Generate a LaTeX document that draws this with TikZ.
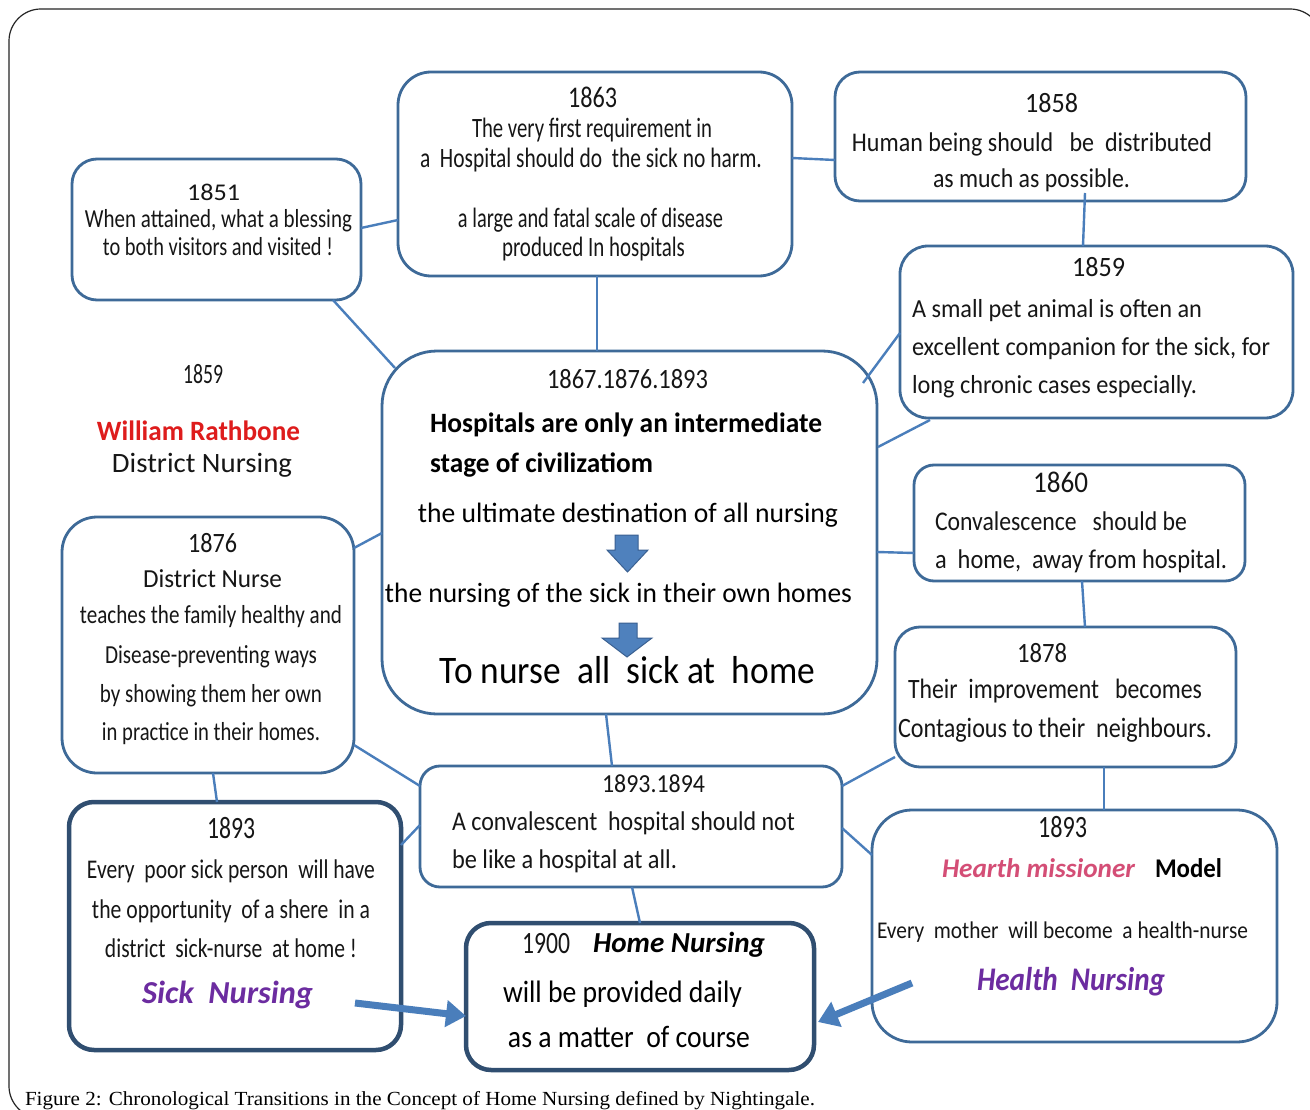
\documentclass[tikz,border=0pt]{standalone}
\usepackage{fontspec}
\setmainfont{Carlito}
\newfontfamily\capfont{Liberation Serif}
\usepackage{graphicx}
\usetikzlibrary{arrows.meta,calc}
\definecolor{boxc}{RGB}{62,106,152}
\definecolor{boxd}{RGB}{48,78,112}
\definecolor{linec}{RGB}{74,126,187}
\definecolor{txtc}{RGB}{22,22,22}
\definecolor{redc}{RGB}{222,28,28}
\definecolor{pinkc}{RGB}{212,78,118}
\definecolor{purc}{RGB}{108,44,160}
\definecolor{arrf}{RGB}{79,129,189}
\definecolor{arrd}{RGB}{58,96,145}
\newcommand\fs[1]{\fontsize{#1}{#1}\selectfont}
\newcommand\fw[2]{\resizebox{#1pt}{\height}{#2}}
\begin{document}
\begin{tikzpicture}[x=1pt,y=-1pt,
  box/.style={draw=boxc, line width=2.8pt, fill=white, rectangle, inner sep=0pt, outer sep=0pt},
  boxthick/.style={box, draw=boxd, line width=4.5pt},
  conn/.style={draw=linec, line width=2.4pt},
  bigarrow/.style={draw=linec, line width=7pt, -{Triangle[length=20pt,width=26pt]}},
  tx/.style={anchor=base, inner sep=0pt, outer sep=0pt, text=txtc},
  txl/.style={tx, anchor=base west},
  blockarrow/.style={fill=arrf, draw=arrd, line width=1pt}]
\useasboundingbox (0,0) rectangle (1310,1110);
\fill[white] (0,0) rectangle (1310,1110);
\begin{scope}
\clip (0,0) rectangle (1310,1110);
\draw[line width=1.2pt, draw=black!85, rounded corners=32pt] (9,9) rectangle (1322,1118);
\end{scope}

% boxes
\node[box, rounded corners=25pt, minimum width=289pt, minimum height=141pt] (b1851) at (216.5,229.5) {};
\node[box, rounded corners=33pt, minimum width=394pt, minimum height=204pt] (b1863) at (595,174) {};
\node[box, rounded corners=25pt, minimum width=411pt, minimum height=129pt] (b1858) at (1040.5,136.5) {};
\node[box, rounded corners=28pt, minimum width=393pt, minimum height=172pt] (b1859) at (1096.5,332) {};
\node[box, rounded corners=55pt, minimum width=495pt, minimum height=363pt] (bc) at (629.5,532.5) {};
\node[box, rounded corners=20pt, minimum width=331pt, minimum height=116pt] (b1860) at (1079.5,523) {};
\node[box, rounded corners=35pt, minimum width=292pt, minimum height=256pt] (b1876) at (208,645) {};
\node[box, rounded corners=25pt, minimum width=341pt, minimum height=140pt] (b1878) at (1065.5,697) {};
\node[box, rounded corners=20pt, minimum width=422pt, minimum height=121pt] (b1894) at (631,826.5) {};
\node[boxthick, rounded corners=25pt, minimum width=332pt, minimum height=248pt] (bL) at (235,926) {};
\node[box, rounded corners=40pt, minimum width=405pt, minimum height=232pt] (bR) at (1074.5,926) {};
\node[boxthick, rounded corners=25pt, minimum width=348pt, minimum height=147pt] (b1900) at (640,996.5) {};

% connectors
\draw[conn] ($(b1851.east)+(0,-1.5)$) -- ($(b1863.west)+(0,46)$);
\draw[conn] ($(b1851.south east)+(-28,0)$) -- ($(bc.north west)+(13,17)$);
\draw[conn] ($(b1863.south)+(2,0)$) -- ($(bc.north)+(-32.5,0)$);
\draw[conn] ($(b1863.east)+(0,-16)$) -- ($(b1858.west)+(0,23.5)$);
\draw[conn] ($(b1858.south)+(44.5,-8)$) -- ($(b1859.north)+(-13.5,0)$);
\draw[conn] ($(b1859.west)+(0,1)$) -- ($(bc.north east)+(-14,32)$);
\draw[conn] ($(b1859.south west)+(30,2)$) -- ($(bc.east)+(1,-85.5)$);
\draw[conn] ($(b1860.west)+(0,30)$) -- ($(bc.east)+(0,19.5)$);
\draw[conn] ($(b1860.south)+(2.5,0)$) -- ($(b1878.north)+(19.5,0)$);
\draw[conn] ($(b1878.south west)+(0,-10)$) -- ($(b1894.north east)+(0,20)$);
\draw[conn] ($(b1878.south)+(38.5,0)$) -- ($(bR.north)+(29.5,0)$);
\draw[conn] ($(b1894.east)+(0,1.5)$) -- ($(bR.west)+(0,-71)$);
\draw[conn] ($(bc.south)+(-23.5,0)$) -- ($(b1894.north)+(-19,0)$);
\draw[conn] ($(b1876.north east)+(0,31)$) -- ($(bc.west)+(0,0.5)$);
\draw[conn] ($(b1876.south east)+(0,-28)$) -- ($(b1894.west)+(0,-40.5)$);
\draw[conn] ($(b1876.south)+(5,0)$) -- ($(bL.north)+(-18,0)$);
\draw[conn] ($(bL.east)+(0,-81)$) -- ($(b1894.west)+(0,-1.5)$);
\draw[conn] ($(b1894.south)+(1,0)$) -- (b1900.north);
\draw[bigarrow] ($(bL.east)+(-46,77)$) -- ($(b1900.west)+(0,19.5)$);
\draw[bigarrow] ($(bR.west)+(40,57)$) -- ($(b1900.east)+(4,25.5)$);

% block arrows in the centre box
\draw[blockarrow] (615,535) -- (638,535) -- (638,550) -- (648,550) -- (627.5,572) -- (607,550) -- (615,550) -- cycle;
\draw[blockarrow] (619,623) -- (637,623) -- (637,638) -- (652,638) -- (627,657) -- (602,638) -- (619,638) -- cycle;

% texts
\node[tx, font=\fs{24}] (t1851) at (213.5,201) {\fw{53}{1851}};
\node[tx, font=\fs{26}] (t1851a) at (218.5,228) {\fw{267}{When attained, what a blessing}};
\node[tx, font=\fs{26}] (t1851b) at (218,256) {\fw{230}{to both visitors and visited !}};

\node[tx, font=\fs{30}] (t1863) at (592.5,108) {\fw{49}{1863}};
\node[tx, font=\fs{28}] (t1863a) at (592,138) {\fw{240}{The very first requirement in}};
\node[tx, font=\fs{28}] (t1863b) at (591,168) {\fw{342}{a\ \ Hospital should do\ \ the sick\ no harm.}};
\node[tx, font=\fs{28}] (t1863c) at (590.5,228) {\fw{265}{a large and fatal scale of disease}};
\node[tx, font=\fs{28}] (t1863d) at (593.5,257) {\fw{183}{produced In hospitals}};

\node[tx, font=\fs{28}] (t1858) at (1051.5,113) {\fw{53}{1858}};
\node[tx, font=\fs{27}] (t1858a) at (1032,152) {\fw{360}{Human being should\ \ \ be\ \ distributed}};
\node[tx, font=\fs{27}] (t1858b) at (1031.5,188) {\fw{197}{as much as possible.}};

\node[tx, font=\fs{28}] (t1859) at (1098.5,277) {\fw{53}{1859}};
\node[txl, font=\fs{26}] (t1859a) at (912,317) {\fw{290}{A small pet animal is often\ an}};
\node[txl, font=\fs{26}] (t1859b) at (912,355) {\fw{358}{excellent companion for the sick, for}};
\node[txl, font=\fs{26}] (t1859c) at (912,393) {\fw{285}{long chronic cases especially.}};

\node[tx, font=\fs{28}] (tc0) at (627.5,388) {\fw{161}{1867.1876.1893}};
\node[txl, font=\fs{28}\bfseries, text=black] (tc1) at (430,432) {\fw{392}{Hospitals are only an intermediate}};
\node[txl, font=\fs{28}\bfseries, text=black] (tc2) at (430,472) {\fw{223}{stage of civilizatiom}};
\node[tx, font=\fs{28}, text=black] (tc3) at (628,522) {\fw{420}{the ultimate destination of all nursing}};
\node[tx, font=\fs{28}, text=black] (tc4) at (618.5,602) {\fw{467}{the nursing of the sick in their own homes}};
\node[tx, font=\fs{39}, text=black] (tc5) at (627.5,683) {\fw{375}{To nurse\ \ all\ \ sick at\ \ home}};

\node[tx, font=\fs{30}] (t1860) at (1060.5,492) {\fw{55}{1860}};
\node[txl, font=\fs{27}] (t1860a) at (935,530) {\fw{252}{Convalescence\ \ \ should be}};
\node[txl, font=\fs{27}] (t1860b) at (935,568) {\fw{292}{a\ \ home,\ \ away from hospital.}};

\node[tx, font=\fs{28}] (tf0) at (203,383) {\fw{40}{1859}};
\node[tx, font=\fs{28}\bfseries, text=redc] (tf1) at (198.5,440) {\fw{203}{William Rathbone}};
\node[tx, font=\fs{28}] (tf2) at (202,472) {\fw{180}{District Nursing}};

\node[tx, font=\fs{28}] (t1876) at (212.5,552) {\fw{49}{1876}};
\node[tx, font=\fs{26}] (t1876a) at (212.5,587) {\fw{139}{District Nurse}};
\node[tx, font=\fs{26}] (t1876b) at (211,623) {\fw{262}{teaches the family healthy and}};
\node[tx, font=\fs{26}] (t1876c) at (211,663) {\fw{212}{Disease-preventing ways}};
\node[tx, font=\fs{26}] (t1876d) at (211,702) {\fw{222}{by showing them her own}};
\node[tx, font=\fs{26}] (t1876e) at (211,740) {\fw{218}{in practice in their homes.}};

\node[tx, font=\fs{28}] (t1878) at (1042,662) {\fw{50}{1878}};
\node[tx, font=\fs{28}] (t1878a) at (1055,698) {\fw{294}{Their\ \ improvement\ \ \ becomes}};
\node[tx, font=\fs{28}] (t1878b) at (1055,737) {\fw{314}{Contagious to their\ \ neighbours.}};

\node[tx, font=\fs{26}] (t1894) at (653.5,792) {\fw{103}{1893.1894}};
\node[txl, font=\fs{27}] (t1894a) at (452,830) {\fw{343}{A convalescent\ \ hospital should not}};
\node[txl, font=\fs{27}] (t1894b) at (452,868) {\fw{225}{be like a hospital at all.}};

\node[tx, font=\fs{31}] (t1900) at (546,953) {\fw{48}{1900}};
\node[tx, font=\fs{29}\bfseries\itshape, text=black] (t1900h) at (679,952) {\fw{172}{Home Nursing}};
\node[txl, font=\fs{31}, text=black] (t1900a) at (503,1002) {\fw{239}{will be provided daily}};
\node[tx, font=\fs{31}, text=black] (t1900b) at (629,1047) {\fw{242}{as a matter\ \ of course}};

\node[tx, font=\fs{31}] (tL) at (231,838) {\fw{48}{1893}};
\node[tx, font=\fs{27}] (tLa) at (231,878) {\fw{288}{Every\ \ poor sick person\ \ will have}};
\node[tx, font=\fs{27}] (tLb) at (231,918) {\fw{278}{the opportunity\ \ of a shere\ \ in a}};
\node[tx, font=\fs{27}] (tLc) at (231,957) {\fw{252}{district\ \ sick-nurse\ \ at home !}};
\node[tx, font=\fs{32}\bfseries\itshape, text=purc] (tLd) at (227.5,1003) {\fw{171}{Sick\ \ Nursing}};

\node[tx, font=\fs{31}] (tR) at (1062.5,837) {\fw{49}{1893}};
\node[tx, font=\fs{27}\bfseries\itshape, text=pinkc] (tRa) at (1038.5,877) {\fw{193}{Hearth missioner}};
\node[tx, font=\fs{27}\bfseries, text=black] (tRb) at (1188.5,877) {\fw{67}{Model}};
\node[tx, font=\fs{24}] (tRc) at (1062.5,938) {\fw{371}{Every\ \ mother\ \ will become\ \ a health-nurse}};
\node[tx, font=\fs{33}\bfseries\itshape, text=purc] (tRd) at (1071,990) {\fw{188}{Health\ \ Nursing}};

\node[txl, font=\capfont\fs{20}, text=black] (cap) at (25,1105) {\fw{790}{Figure 2: Chronological Transitions in the Concept of Home Nursing defined by Nightingale.}};
\end{tikzpicture}
\end{document}
